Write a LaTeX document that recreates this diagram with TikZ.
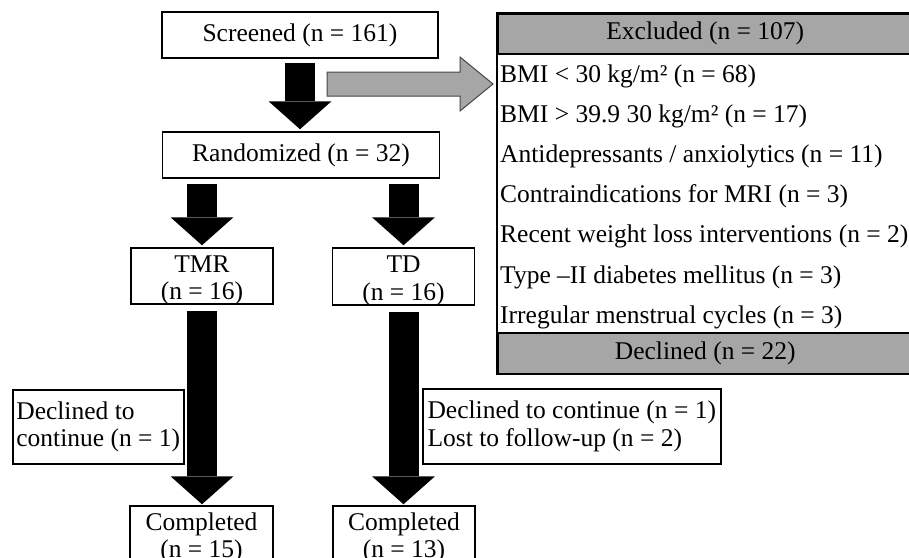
\documentclass[tikz,border=0pt]{standalone}
\usepackage{fontspec}
\setmainfont{Liberation Serif}
\usetikzlibrary{arrows.meta}
\begin{document}
\begin{tikzpicture}[x=1pt,y=-1pt,
	every node/.style={font=\fontsize{25.5}{27.5}\selectfont},
	box/.style={draw, line width=1.5pt, fill=white, inner sep=2pt, align=center},
	twoline/.style={box, inner ysep=0pt, text height=51.5pt, text depth=4pt, minimum width=142, minimum height=56},
	notebox/.style={draw, line width=1.5pt, anchor=north west, align=left, inner sep=0pt},
	hdr/.style={draw, line width=1.5pt, fill=gray!70, anchor=north west, minimum width=420, inner sep=0pt},
	why/.style={anchor=west, inner sep=0pt},
	fat/.style={line width=30pt, -{Triangle[length=28pt, width=63pt, line width=0pt]}},
	garrow/.style={fill=gray!70, draw=gray!55!black, line width=1pt}]
	\useasboundingbox (0,0) rectangle (909,557);

	\node[box, minimum width=276, minimum height=46] (scr) at (300,35) {Screened (n = 161)};
	\node[box, minimum width=277, minimum height=46] (rand) at (301,155) {Randomized (n = 32)};
	\node[twoline] (tmr) at (202,276) {TMR\\(n = 16)};
	\node[twoline, minimum height=57] (td) at (403.5,276.5) {TD\\(n = 16)};
	\node[twoline, minimum width=143] (comp1) at (201.5,534) {Completed\\(n = 15)};
	\node[twoline] (comp2) at (404,534) {Completed\\(n = 13)};
	\node[notebox, minimum width=171, minimum height=74] (dec1) at (12,389) {Declined to\\continue (n = 1)};
	\node[notebox, minimum width=298, minimum height=75] (dec2) at (422,388) {Declined to continue (n = 1)\\Lost to follow-up (n = 2)};

	\node[hdr, minimum height=40] (excl) at (497,13) {\hspace*{-5pt}Excluded (n = 107)};
	\node[hdr, minimum height=41] (decl) at (497,332) {\hspace*{-5pt}Declined (n = 22)};
	\draw[line width=1.5pt] (excl.north west) rectangle (decl.south east);
	\foreach \txt [count=\i from 0] in {BMI < 30 kg/m² (n = 68),
		BMI > 39.9 30 kg/m² (n = 17),
		Antidepressants / anxiolytics (n = 11),
		Contraindications for MRI (n = 3),
		Recent weight loss interventions (n = 2),
		Type --II diabetes mellitus (n = 3),
		Irregular menstrual cycles (n = 3)}
		\node[why] (why\i) at (500,76+40.2*\i) {\txt};

	\draw[fat, shorten <=4pt, shorten >=2pt] (scr.south) -- (scr.south |- rand.north);
	\draw[fat, shorten <=5pt, shorten >=2pt] (rand.south -| tmr.north) -- (tmr.north);
	\draw[fat, shorten <=5pt, shorten >=2pt] (rand.south -| td.north) -- (td.north);
	\draw[fat, shorten <=6pt, shorten >=1pt] (tmr.south) -- (comp1.north -| tmr.south);
	\draw[fat, shorten <=6pt, shorten >=1pt] (td.south) -- (comp2.north -| td.south);

	\coordinate (gt) at (327,84);
	\filldraw[garrow] (gt) ++(0,-12) -- ++(133,0) -- ++(0,-15) -- ++(33,27) -- ++(-33,27) -- ++(0,-15) -- ++(-133,0) -- cycle;
\end{tikzpicture}
\end{document}
